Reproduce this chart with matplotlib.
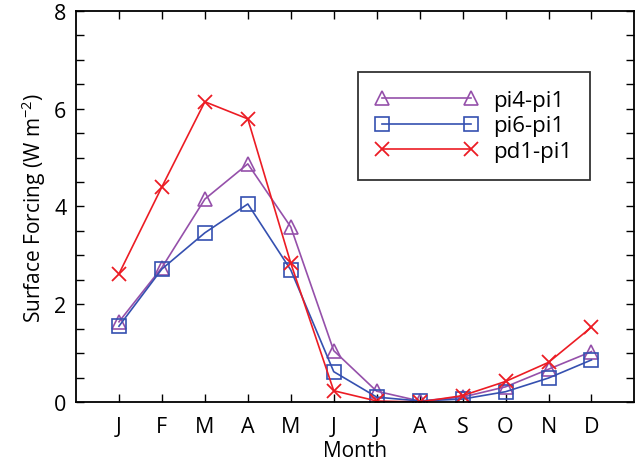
import numpy as np
import matplotlib
matplotlib.use('Agg')
import matplotlib.pyplot as plt

plt.rcParams['font.family'] = ['Open Sans', 'DejaVu Sans']

months = ['J', 'F', 'M', 'A', 'M', 'J', 'J', 'A', 'S', 'O', 'N', 'D']
pi4_pi1 = [1.64, 2.75, 4.15, 4.87, 3.58, 1.05, 0.22, 0.02, 0.10, 0.31, 0.67, 1.03]
pi6_pi1 = [1.55, 2.72, 3.46, 4.05, 2.70, 0.62, 0.10, 0.02, 0.06, 0.21, 0.49, 0.86]
pd1_pi1 = [2.62, 4.40, 6.14, 5.79, 2.84, 0.23, 0.02, 0.00, 0.13, 0.42, 0.81, 1.53]

x = np.arange(1, 13)

fig = plt.figure(figsize=(6.36, 4.64), dpi=100)
ax = fig.add_axes([0.1195, 0.1315, 0.878, 0.843])

# one line per experiment pair
ax.plot(x, pi4_pi1, color='#9550aa', lw=1.2, marker='^', ms=10,
        mfc='none', mew=1.2, label='pi4-pi1')
ax.plot(x, pi6_pi1, color='#3550b0', lw=1.2, marker='s', ms=9.5,
        mfc='none', mew=1.2, label='pi6-pi1')
ax.plot(x, pd1_pi1, color='#ec1c24', lw=1.2, marker='x', ms=10.5,
        mew=1.3, label='pd1-pi1')

ax.set_xlim(0, 13)
ax.set_ylim(0, 8)
ax.set_xticks(x)
ax.set_xticklabels(months)
ax.set_yticks([0, 2, 4, 6, 8])
ax.set_yticks(np.arange(0, 8.01, 0.5), minor=True)
ax.tick_params(which='both', direction='in', top=True, right=True,
               labelsize=15.5, width=1, length=6)
ax.tick_params(axis='x', pad=10)
ax.tick_params(axis='y', pad=7)
for s in ax.spines.values():
    s.set_linewidth(1.3)

ax.set_xlabel('Month', fontsize=15, labelpad=2)
ax.set_ylabel('Surface Forcing (W m$^{\\mathregular{-2}}$)', fontsize=15, labelpad=4)

leg = ax.legend(loc='upper left', bbox_to_anchor=(0.505, 0.843), numpoints=2,
                handlelength=4.6, fontsize=16, frameon=True, fancybox=False,
                borderpad=0.8, labelspacing=0.2, handletextpad=0.7,
                borderaxespad=0)
leg.get_frame().set_edgecolor('black')
leg.get_frame().set_linewidth(1.3)

fig.savefig('out.png', dpi=100)
